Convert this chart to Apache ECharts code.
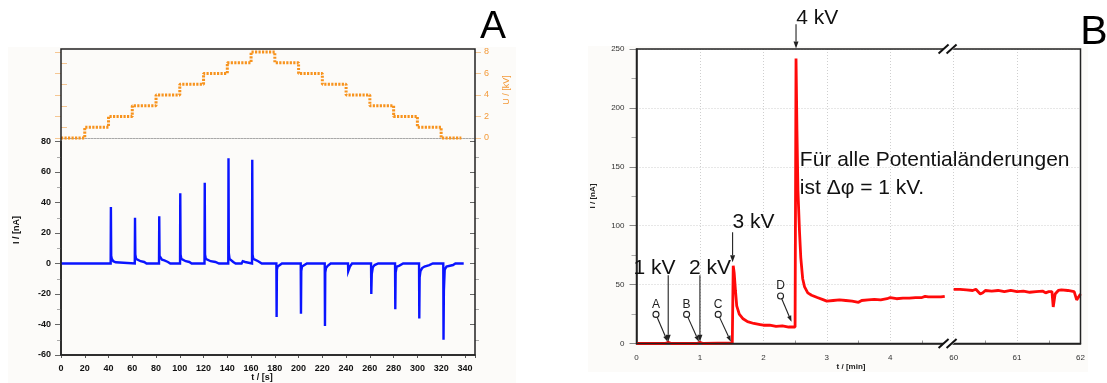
<!DOCTYPE html>
<html><head><meta charset="utf-8">
<script src="https://cdn.jsdelivr.net/npm/echarts@6/dist/echarts.min.js"></script>
<style>html,body{margin:0;padding:0;background:#fff}#c{width:1107px;height:383px}</style>
</head><body><div id="c"></div>
<script>
// ---------- Panel A data ----------
const voltT = [0,20,40,60,80,100,120,140,160,180,200,220,240,260,280,300,320,337];
const voltU = [0,1,2,3,4,5,6,7,8,7,6,5,4,3,2,1,0,0];
const currT = [0,41.8,42,42.25,42.8,44,46,47,
  62.1,62.3,62.55,63.2,64.5,67,70,72,
  82.5,82.7,82.95,83.6,85,87,90,92,
  100.2,100.4,100.65,101.3,102.5,105,108,110,
  120.8,121,121.25,121.9,123.5,126,130,133,
  140.8,141,141.25,141.9,143.5,145,147,152,153,155,156,
  160.8,161,161.25,161.9,163.5,166,169,
  181.3,181.5,181.75,182.4,184,186,
  201.8,202,202.25,202.9,204.5,207,
  222,222.2,222.45,223.1,224.5,227,
  241.6,241.8,242.6,243.2,245,
  261,261.2,261.6,262.5,264,267,
  281.2,281.4,281.7,282.6,284.5,288,
  301.4,301.6,301.9,302.6,304,306,310,313,
  321.8,322,322.3,323,324.5,326,330,332,339];
const currI = [0,0,37,5,3,1.5,0.8,0,
  0,30,6,3,2,1.5,1,0,
  0,31,5,4,2.5,2,1,0,
  0,46,6,3,2,1.5,1,0,
  0,53,6,3,2,1.5,1,0,
  0,69,7,3,2,1,0,0,1.5,1,0,
  0,68,6,3,2,1.5,0,
  0,-35,-4,-2,-1,0,
  0,-33,-5,-2,-1,0,
  0,-41,-6,-3,-1.5,0,
  0,-5,-5.5,-2,0,
  0,-20,-7,-2.5,-1,0,
  0,-30,-6,-2,-1.5,0,
  0,-36,-9,-5,-3,-2,-1,0,
  0,-50,-18,-4,-2,-1.5,-1,0,0];
const aTimeTicks = [0,20,40,60,80,100,120,140,160,180,200,220,240,260,280,300,320,340];
const aCurrentTicks = [-60,-40,-20,0,20,40,60,80];
const aVoltTicks = [0,2,4,6,8];

// ---------- Panel B data ----------
const bT1 = [0,0.45,0.5,0.55,0.95,1.0,1.05,1.51,1.525,1.54,1.56,1.58,1.62,1.68,1.75,1.85,1.95,2.0,2.1,2.2,2.3,2.4,2.5,2.51,
  2.515,2.53,2.545,2.57,2.59,2.62,2.65,2.7,2.76,2.85,2.95,3.0,3.1,3.2,3.3,3.4,3.5,3.55,3.65,3.75,3.85,3.95,4.0,4.1,4.2,4.3,4.4,4.5,4.55,4.6,4.7,4.8,4.86];
const bI1 = [0,0,1,0,0,1,0,0.5,66,60,45,32,25,21,18.5,17,16,15.5,15.5,14.5,15,14,14,14,
  242,180,130,95,73,55,48,43,41,39,37,36,36.5,37,36.5,36,35,36.5,37,37.5,37,38,39,38,38.5,38.5,39,39,40,39.5,39.5,39.5,40];
const bT2 = [60.0,60.1,60.2,60.3,60.35,60.42,60.46,60.5,60.6,60.7,60.8,60.9,61.0,61.1,61.2,61.3,61.4,61.45,61.5,61.55,61.57,61.6,61.65,61.7,61.8,61.9,61.94,61.97,62.0];
const bI2 = [46,46,45.5,45,46,42,43,45,44.5,45,44,45,44,44.5,43.5,44,44.5,43,44,44,31,42,45,45.5,45,44,37,36,42];
const bBreakOffset = 55;          // 60 min is drawn where 5 min would be
const bTimeTickLabels = [0,1,2,3,4,60,61,62];
const bCurrentTicks = [0,50,100,150,200,250];

// annotations (data coordinates of panel B)
const kvLabels = ['1 kV','2 kV','3 kV','4 kV'];
const kvLabelPos = [[0.283,64],[1.157,64],[1.843,103],[2.85,276]];
const kvArrowFrom = [[0.5,58],[1.0,58],[1.515,94.5],[2.515,271]];
const kvArrowTo = [[0.5,1.5],[1.0,1.5],[1.515,69],[2.515,250.5]];
const pointLabels = ['A','B','C','D'];
const pointCircle = [[0.307,24.7],[0.79,24.7],[1.288,24.7],[2.271,40.3]];
const pointArrowTo = [[0.491,1.5],[0.984,1.5],[1.488,1.5],[2.444,18.5]];
const noteLines = ['Für alle Potentialänderungen','ist Δφ = 1 kV.'];
const notePos = [[2.575,155.5],[2.575,131.8]];
const breakAt = 4.92;

// ---------- layout ----------
const LA = {left:61, right:475, top:49, vTop:52, vBottom:138, iTop:141.5, bottom:355};
const LB = {left:636.5, right:1080.5, top:49, bottom:343.5};
const aXMax = 348.5;

const pairs = (xs, ys, off=0) => xs.map((x,i)=>[x-off, ys[i]]);
const fmtIn = (list) => (v => list.indexOf(Math.round(v*1000)/1000) >= 0 ? String(v) : '');

const chart = echarts.init(document.getElementById('c'), null, {renderer:'canvas'});
const orange = '#f7931e';
const fontA = {fontFamily:'Liberation Sans, Arial, sans-serif', fontWeight:'bold', fontSize:9, color:'#111'};
const fontB = {fontFamily:'Liberation Sans, Arial, sans-serif', fontSize:8, color:'#333'};

const option = {
  animation:false,
  grid:[
    {left:LA.left, top:LA.vTop, width:LA.right-LA.left, height:LA.vBottom-LA.vTop},
    {left:LA.left, top:LA.iTop, width:LA.right-LA.left, height:LA.bottom-LA.iTop},
    {left:LB.left, top:LB.top, width:LB.right-LB.left, height:LB.bottom-LB.top}
  ],
  xAxis:[
    {gridIndex:0, type:'value', min:0, max:aXMax, interval:20, axisLabel:{show:false}, axisTick:{show:false}, splitLine:{show:false},
      axisLine:{lineStyle:{color:'#a8a8a8', type:[2,1], width:1}}},
    {gridIndex:1, type:'value', min:0, max:aXMax, interval:20, splitLine:{show:false},
      axisLine:{onZero:false, lineStyle:{color:'#222', width:1.5}},
      axisTick:{length:3, lineStyle:{color:'#555'}},
      axisLabel:Object.assign({margin:9, formatter:fmtIn(aTimeTicks)}, fontA)},
    {gridIndex:2, type:'value', min:0, max:7, interval:1,
      axisLine:{onZero:false, lineStyle:{color:'#222', width:1.5}},
      axisTick:{show:false},
      minorTick:{show:true, splitNumber:2, length:-3, lineStyle:{color:'#999'}},
      splitLine:{show:true, lineStyle:{color:'#cfcfcf', type:[1,2]}},
      axisLabel:Object.assign({margin:10, formatter:(v)=> {const t = v>=5 ? v+bBreakOffset : v; return bTimeTickLabels.indexOf(t)>=0 ? String(t) : '';}}, fontB)}
  ],
  yAxis:[
    {gridIndex:0, type:'value', position:'right', min:0, max:8, interval:2,
      axisLine:{show:false}, splitLine:{show:false},
      axisTick:{inside:true, length:6, lineStyle:{color:'#f6c793'}},
      minorTick:{show:true, splitNumber:2, length:-6, lineStyle:{color:'#f6c793'}},
      axisLabel:{margin:9, color:'#f39a3a', fontSize:9, fontFamily:'Liberation Sans, Arial, sans-serif', formatter:fmtIn(aVoltTicks)}},
    {gridIndex:0, type:'value', position:'right', min:0, max:8, interval:2,
      axisLine:{show:false}, splitLine:{show:false}, axisLabel:{show:false},
      axisTick:{inside:false, length:6, lineStyle:{color:'#f6c793'}}},
    {gridIndex:1, type:'value', min:-60, max:80, interval:20,
      axisLine:{show:true, lineStyle:{color:'#222', width:1.5}}, splitLine:{show:false},
      axisTick:{inside:false, length:6, lineStyle:{color:'#666'}},
      minorTick:{show:true, splitNumber:2, length:4, lineStyle:{color:'#aaa'}},
      axisLabel:Object.assign({margin:10, formatter:fmtIn(aCurrentTicks)}, fontA)},
    {gridIndex:1, type:'value', min:-60, max:80, interval:20,
      axisLine:{show:false}, splitLine:{show:false}, axisLabel:{show:false},
      axisTick:{inside:true, length:5, lineStyle:{color:'#666'}},
      minorTick:{show:true, splitNumber:2, length:-4, lineStyle:{color:'#aaa'}}},
    {gridIndex:2, type:'value', min:0, max:250, interval:50,
      axisLine:{show:true, lineStyle:{color:'#222', width:1.5}},
      splitLine:{show:true, lineStyle:{color:'#cfcfcf', type:[1,2]}},
      axisTick:{inside:false, length:7, lineStyle:{color:'#888'}},
      minorTick:{show:true, splitNumber:2, length:5, lineStyle:{color:'#aaa'}},
      axisLabel:Object.assign({margin:12, formatter:fmtIn(bCurrentTicks)}, fontB)}
  ],
  series:[
    {type:'line', xAxisIndex:0, yAxisIndex:0, data:pairs(voltT, voltU), step:'end', showSymbol:false, clip:false,
      lineStyle:{color:orange, width:3, type:[2.2,1.3], cap:'butt'}},
    {type:'line', xAxisIndex:1, yAxisIndex:2, data:pairs(currT, currI), showSymbol:false,
      lineStyle:{color:'#0a14ff', width:2.4, join:'miter'}},
    {type:'line', xAxisIndex:2, yAxisIndex:4, data:pairs(bT1, bI1), showSymbol:false,
      lineStyle:{color:'#ff0a0a', width:2.8}},
    {type:'line', xAxisIndex:2, yAxisIndex:4, data:pairs(bT2, bI2, bBreakOffset), showSymbol:false,
      lineStyle:{color:'#ff0a0a', width:2.8}}
  ]
};
chart.setOption(option);

// ---------- decorations ----------
const g = [];
const txt = (text, x, y, font, fill, align, valign, rot) => ({type:'text', x, y, rotation:rot||0, z:100,
  style:{text, font, fill:fill||'#111', align:align||'center', verticalAlign:valign||'middle', textAlign:align||'center', textVerticalAlign:valign||'middle'}});
g.push({type:'rect', z:-10, shape:{x:8, y:47, width:508, height:336}, style:{fill:'#fcfbf9'}});
g.push({type:'rect', z:-10, shape:{x:588, y:46, width:500, height:326}, style:{fill:'#fcfbf9'}});
g.push({type:'rect', z:-9, shape:{x:LB.left, y:LB.top, width:LB.right-LB.left, height:LB.bottom-LB.top}, style:{fill:'#ffffff'}});
g.push({type:'rect', z:50, shape:{x:LA.left, y:LA.top, width:LA.right-LA.left, height:LA.bottom-LA.top}, style:{fill:'none', stroke:'#222', lineWidth:1.5}});
g.push({type:'rect', z:50, shape:{x:LB.left, y:LB.top, width:LB.right-LB.left, height:LB.bottom-LB.top}, style:{fill:'none', stroke:'#222', lineWidth:1.5}});
g.push(txt('A', 493, 27, '39px "Liberation Sans", Arial, sans-serif', '#000'));
g.push(txt('B', 1094, 33, '41px "Liberation Sans", Arial, sans-serif', '#000'));
g.push(txt('I / [nA]', 17, 230, 'bold 9px "Liberation Sans", Arial, sans-serif', '#111', 'center', 'middle', Math.PI/2));
g.push(txt('t / [s]', 262, 378, 'bold 9px "Liberation Sans", Arial, sans-serif', '#111'));
g.push(txt('U / [kV]', 507, 90, '9px "Liberation Sans", Arial, sans-serif', '#f39a3a', 'center', 'middle', Math.PI/2));
g.push(txt('I / [nA]', 593, 196, 'bold 8px "Liberation Sans", Arial, sans-serif', '#222', 'center', 'middle', Math.PI/2));
g.push(txt('t / [min]', 851, 367, 'bold 8px "Liberation Sans", Arial, sans-serif', '#222'));

const px = (p) => chart.convertToPixel({gridIndex:2}, p);
function arrow(p0, p1, color, head, hw) {
  const dx=p1[0]-p0[0], dy=p1[1]-p0[1], L=Math.hypot(dx,dy), ux=dx/L, uy=dy/L;
  const bx=p1[0]-ux*head, by=p1[1]-uy*head;
  return [
    {type:'line', z:90, shape:{x1:p0[0],y1:p0[1],x2:bx,y2:by}, style:{stroke:color, lineWidth:1.1}},
    {type:'polygon', z:90, shape:{points:[[p1[0],p1[1]],[bx-uy*hw,by+ux*hw],[bx+uy*hw,by-ux*hw]]}, style:{fill:color}}
  ];
}
const bigFont = '21px "Liberation Sans", Arial, sans-serif';
kvLabels.forEach((t,i)=>{
  const p = px(kvLabelPos[i]);
  g.push(txt(t, p[0], p[1], bigFont, '#111'));
  g.push(...arrow(px(kvArrowFrom[i]), px(kvArrowTo[i]), '#222', 7, 2.5));
});
pointLabels.forEach((t,i)=>{
  const c = px(pointCircle[i]);
  g.push({type:'circle', z:90, shape:{cx:c[0], cy:c[1], r:3}, style:{fill:'#fff', stroke:'#222', lineWidth:1.1}});
  g.push(txt(t, c[0], c[1]-10, '12px "Liberation Sans", Arial, sans-serif', '#222'));
  const e = px(pointArrowTo[i]);
  const dx=e[0]-c[0], dy=e[1]-c[1], L=Math.hypot(dx,dy);
  g.push(...arrow([c[0]+dx/L*3, c[1]+dy/L*3], e, '#222', 6, 2.2));
});
noteLines.forEach((t,i)=>{
  const p = px(notePos[i]);
  g.push(txt(t, p[0], p[1], bigFont, '#111', 'left', 'middle'));
});
[250, 0].forEach(v=>{
  const p = px([breakAt, v]);
  const x=p[0], y=p[1];
  g.push({type:'polygon', z:60, shape:{points:[[x-9,y+4],[x-1,y-4],[x+9,y-4],[x+1,y+4]]}, style:{fill:'#fff'}});
  g.push({type:'line', z:61, shape:{x1:x-10,y1:y+4.5,x2:x,y2:y-4.5}, style:{stroke:'#111', lineWidth:2}});
  g.push({type:'line', z:61, shape:{x1:x-2,y1:y+4.5,x2:x+8,y2:y-4.5}, style:{stroke:'#111', lineWidth:2}});
});
chart.setOption({graphic:g});
</script></body></html>
